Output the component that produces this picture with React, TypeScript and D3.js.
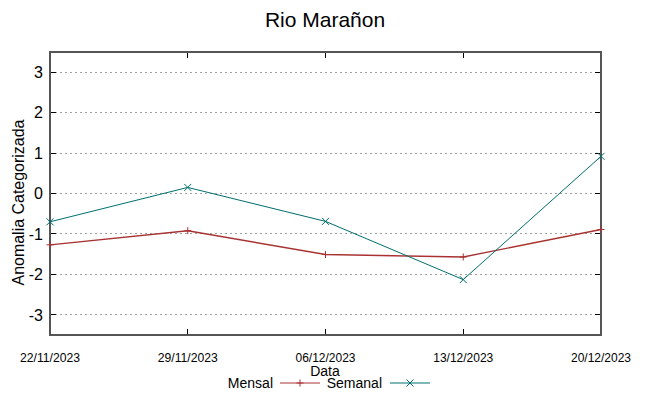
import React, { useEffect, useRef } from "react"
import * as d3 from "d3"

const dates = ["22/11/2023", "29/11/2023", "06/12/2023", "13/12/2023", "20/12/2023"]
const mensal = [-1.27, -0.92, -1.51, -1.57, -0.89]
const semanal = [-0.7, 0.15, -0.69, -2.13, 0.92]
const yTicks = [-3, -2, -1, 0, 1, 2, 3]

const W = 649
const H = 396
const margin = { left: 50, right: 48, top: 52, bottom: 61 }
const FONT = "'Liberation Sans', Arial, sans-serif"

export default function App() {
    const ref = useRef<SVGSVGElement>(null)

    useEffect(() => {
        const svg = d3.select(ref.current)
        svg.selectAll("*").remove()

        const x = d3
            .scalePoint<string>()
            .domain(dates)
            .range([margin.left, W - margin.right])
        const y = d3
            .scaleLinear()
            .domain([-3.5, 3.5])
            .range([H - margin.bottom, margin.top])

        // grid
        svg.append("g")
            .selectAll("line")
            .data(yTicks)
            .enter()
            .append("line")
            .attr("x1", margin.left)
            .attr("x2", W - margin.right)
            .attr("y1", d => y(d))
            .attr("y2", d => y(d))
            .attr("stroke", "#a0a0a0")
            .attr("stroke-width", 1)
            .attr("stroke-dasharray", "2,3")
            .attr("shape-rendering", "crispEdges")

        // ticks on all sides
        const tick = 6
        const tk = svg.append("g").attr("stroke", "#000").attr("shape-rendering", "crispEdges")
        yTicks.forEach(t => {
            tk.append("line").attr("x1", margin.left).attr("x2", margin.left + tick).attr("y1", y(t)).attr("y2", y(t))
            tk.append("line").attr("x1", W - margin.right - tick).attr("x2", W - margin.right).attr("y1", y(t)).attr("y2", y(t))
        })
        dates.forEach(d => {
            tk.append("line").attr("x1", x(d)!).attr("x2", x(d)!).attr("y1", H - margin.bottom).attr("y2", H - margin.bottom - tick)
            tk.append("line").attr("x1", x(d)!).attr("x2", x(d)!).attr("y1", margin.top).attr("y2", margin.top + tick)
        })

        // frame
        svg.append("rect")
            .attr("x", margin.left)
            .attr("y", margin.top)
            .attr("width", W - margin.left - margin.right)
            .attr("height", H - margin.top - margin.bottom)
            .attr("fill", "none")
            .attr("stroke", "#555")
            .attr("stroke-width", 1.2)
            .attr("shape-rendering", "crispEdges")

        // y tick labels
        svg.append("g")
            .selectAll("text")
            .data(yTicks)
            .enter()
            .append("text")
            .attr("x", margin.left - 7)
            .attr("y", d => y(d))
            .attr("dy", "0.36em")
            .attr("text-anchor", "end")
            .attr("font-family", FONT)
            .attr("font-size", 16)
            .text(d => d)

        // x tick labels
        svg.append("g")
            .selectAll("text")
            .data(dates)
            .enter()
            .append("text")
            .attr("x", d => x(d)!)
            .attr("y", 362)
            .attr("text-anchor", "middle")
            .attr("font-family", FONT)
            .attr("font-size", 13)
            .attr("textLength", 60)
            .attr("lengthAdjust", "spacingAndGlyphs")
            .text(d => d)

        // titles
        svg.append("text")
            .attr("x", 325).attr("y", 27)
            .attr("text-anchor", "middle")
            .attr("font-family", FONT).attr("font-size", 21)
            .text("Rio Marañon")
        svg.append("text")
            .attr("x", 325).attr("y", 376)
            .attr("text-anchor", "middle")
            .attr("font-family", FONT).attr("font-size", 14)
            .text("Data")
        svg.append("text")
            .attr("transform", `translate(24,${(margin.top + H - margin.bottom) / 2 + 9}) rotate(-90)`)
            .attr("text-anchor", "middle")
            .attr("font-family", FONT).attr("font-size", 16)
            .attr("textLength", 166)
            .attr("lengthAdjust", "spacingAndGlyphs")
            .text("Anomalia Categorizada")

        const line = d3.line<number>().x((d, i) => x(dates[i])!).y(d => y(d))
        const series = [
            { name: "Mensal", values: mensal, color: "#a83232", width: 1.4, mark: "plus" },
            { name: "Semanal", values: semanal, color: "#006e6e", width: 1, mark: "cross" },
        ]

        const drawMark = (g: any, cx: number, cy: number, mark: string, color: string) => {
            const s = 3.5
            if (mark === "plus") {
                g.append("line").attr("x1", cx - s).attr("x2", cx + s).attr("y1", cy).attr("y2", cy).attr("stroke", color)
                g.append("line").attr("x1", cx).attr("x2", cx).attr("y1", cy - s).attr("y2", cy + s).attr("stroke", color)
            } else {
                g.append("line").attr("x1", cx - s).attr("x2", cx + s).attr("y1", cy - s).attr("y2", cy + s).attr("stroke", color)
                g.append("line").attr("x1", cx - s).attr("x2", cx + s).attr("y1", cy + s).attr("y2", cy - s).attr("stroke", color)
            }
        }

        series.forEach(s => {
            svg.append("path")
                .datum(s.values)
                .attr("d", line)
                .attr("fill", "none")
                .attr("stroke", s.color)
                .attr("stroke-width", s.width)
            const g = svg.append("g").attr("stroke-width", 1)
            s.values.forEach((v, i) => drawMark(g, x(dates[i])!, y(v), s.mark, s.color))
        })

        // legend
        const legend = [
            { label: "Mensal", textEnd: 273, x1: 280, x2: 320 },
            { label: "Semanal", textEnd: 382, x1: 390, x2: 430 },
        ]
        legend.forEach((l, i) => {
            const s = series[i]
            const ly = 383
            svg.append("text")
                .attr("x", l.textEnd).attr("y", ly)
                .attr("dy", "0.35em")
                .attr("text-anchor", "end")
                .attr("font-family", FONT).attr("font-size", 14)
                .text(l.label)
            svg.append("line")
                .attr("x1", l.x1).attr("x2", l.x2).attr("y1", ly).attr("y2", ly)
                .attr("stroke", s.color).attr("stroke-width", 1)
            const g = svg.append("g")
            drawMark(g, (l.x1 + l.x2) / 2, ly, s.mark, s.color)
        })
    }, [])

    return <svg ref={ref} width={W} height={H} style={{ position: "absolute", left: 0, top: 0 }} />
}
